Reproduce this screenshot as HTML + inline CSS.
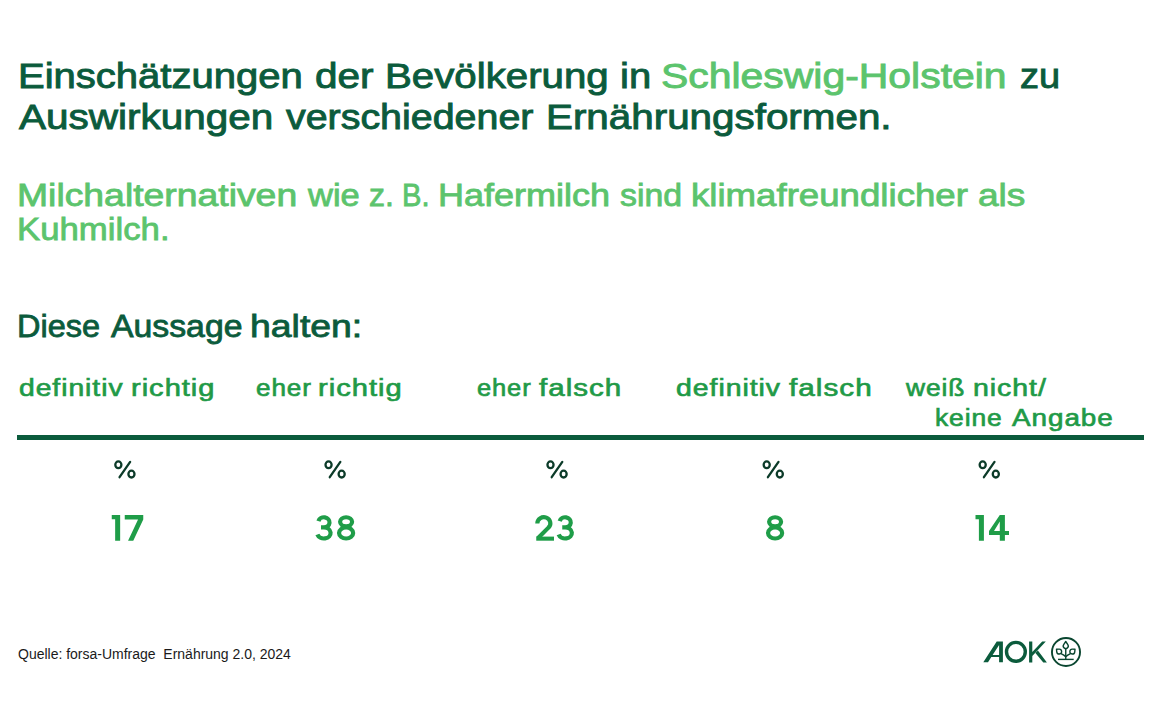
<!DOCTYPE html>
<html lang="de">
<head>
<meta charset="utf-8">
<style>
html,body{margin:0;padding:0;background:#fff;}
body{width:1153px;height:720px;position:relative;overflow:hidden;font-family:"Liberation Sans",sans-serif;}
.t{position:absolute;white-space:nowrap;line-height:1.117;transform-origin:0 0;}
.dk{color:#0b5b3c;}
.lg{color:#5cc46d;}
.md{color:#1f9a47;}
.title{font-size:34.9px;font-weight:normal;-webkit-text-stroke:0.9px currentColor;}
.sub{font-size:30.6px;font-weight:normal;-webkit-text-stroke:0.8px currentColor;}
.hd{font-size:23.5px;font-weight:normal;-webkit-text-stroke:0.65px currentColor;letter-spacing:0.8px;}
.rule{position:absolute;left:17px;top:435px;width:1127px;height:5px;background:#0b5b3c;}
.foot{font-size:14px;color:#1a1a1a;}
</style>
</head>
<body>
<div class="t title dk" id="t1w0" style="left:18.01px;top:56px;transform:scaleX(1.1470);">Einschätzungen</div>
<div class="t title dk" id="t1w1" style="left:315.39px;top:56px;transform:scaleX(1.1613);">der</div>
<div class="t title dk" id="t1w2" style="left:384.91px;top:56px;transform:scaleX(1.1536);">Bevölkerung</div>
<div class="t title dk" id="t1w3" style="left:620.00px;top:56px;transform:scaleX(1.1466);">in</div>
<div class="t title lg" id="t1w4" style="left:661.38px;top:56px;transform:scaleX(1.1725);">Schleswig-Holstein</div>
<div class="t title dk" id="t1w5" style="left:1019.66px;top:56px;transform:scaleX(1.0884);">zu</div>
<div class="t title dk" id="t2w0" style="left:19.01px;top:97px;transform:scaleX(1.1598);">Auswirkungen</div>
<div class="t title dk" id="t2w1" style="left:285.91px;top:97px;transform:scaleX(1.1290);">verschiedener</div>
<div class="t title dk" id="t2w2" style="left:545.85px;top:97px;transform:scaleX(1.1570);">Ernährungsformen.</div>
<div class="t sub lg" id="s1w0" style="left:16.86px;top:178px;transform:scaleX(1.2204);">Milchalternativen</div>
<div class="t sub lg" id="s1w1" style="left:307.91px;top:178px;transform:scaleX(1.1265);">wie</div>
<div class="t sub lg" id="s1w2" style="left:368.99px;top:178px;transform:scaleX(1.0447);">z.</div>
<div class="t sub lg" id="s1w3" style="left:401.68px;top:178px;transform:scaleX(0.9507);">B.</div>
<div class="t sub lg" id="s1w4" style="left:437.54px;top:178px;transform:scaleX(1.1769);">Hafermilch</div>
<div class="t sub lg" id="s1w5" style="left:620.12px;top:178px;transform:scaleX(1.1060);">sind</div>
<div class="t sub lg" id="s1w6" style="left:691.31px;top:178px;transform:scaleX(1.1975);">klimafreundlicher</div>
<div class="t sub lg" id="s1w7" style="left:977.66px;top:178px;transform:scaleX(1.2118);">als</div>
<div class="t sub lg" id="s2" style="left:16.72px;top:212px;transform:scaleX(1.1358);">Kuhmilch.</div>
<div class="t sub dk" id="d1w0" style="left:16.95px;top:309px;transform:scaleX(1.0609);">Diese</div>
<div class="t sub dk" id="d1w1" style="left:110.52px;top:309px;transform:scaleX(1.1042);">Aussage</div>
<div class="t sub dk" id="d1w2" style="left:250.02px;top:309px;transform:scaleX(1.2217);">halten:</div>

<div class="t hd md" id="h1w0" style="left:18.50px;top:375px;transform:scaleX(1.2031);">definitiv</div>
<div class="t hd md" id="h1w1" style="left:131.48px;top:375px;transform:scaleX(1.2370);">richtig</div>
<div class="t hd md" id="h2w0" style="left:256.01px;top:375px;transform:scaleX(1.1114);">eher</div>
<div class="t hd md" id="h2w1" style="left:318.44px;top:375px;transform:scaleX(1.2389);">richtig</div>
<div class="t hd md" id="h3w0" style="left:477.48px;top:375px;transform:scaleX(1.0849);">eher</div>
<div class="t hd md" id="h3w1" style="left:539.25px;top:375px;transform:scaleX(1.2572);">falsch</div>
<div class="t hd md" id="h4w0" style="left:676.00px;top:375px;transform:scaleX(1.2085);">definitiv</div>
<div class="t hd md" id="h4w1" style="left:788.50px;top:375px;transform:scaleX(1.2641);">falsch</div>
<div class="t hd md" id="h5w0" style="left:905.97px;top:375px;transform:scaleX(1.1221);">weiß</div>
<div class="t hd md" id="h5w1" style="left:973.21px;top:375px;transform:scaleX(1.2115);">nicht/</div>
<div class="t hd md" id="h6w0" style="left:935.16px;top:404.6px;transform:scaleX(1.1254);">keine</div>
<div class="t hd md" id="h6w1" style="left:1011.70px;top:404.6px;transform:scaleX(1.1853);">Angabe</div>

<div class="rule"></div>
<svg id="nums" style="position:absolute;left:0;top:0;" width="1153" height="720" viewBox="0 0 1153 720"><g fill="#1f9d48" stroke="#1f9d48" stroke-width="0"><g transform="translate(111.75 515.1)"><path d="M0 0H8.4V25.6H3.4V4.2H0Z"/></g><g transform="translate(124.75 515.1)"><path d="M0 0H18.5V4.4L8.5 25.6H3.3L13.3 4.4H0Z"/></g><g transform="translate(315 515.1)"><path fill="none" stroke-width="4.2" d="M3.44 5.93A5.65 5.1 0 1 1 8.9 12.35M6.0 12.35H8.9A6.75 5.5 0 1 1 2.38 19.42"/></g><g transform="translate(337 515.1)"><g fill="none" stroke-width="4.2"><ellipse cx="9.1" cy="6.75" rx="6.0" ry="4.6"/><ellipse cx="9.1" cy="17.85" rx="7.05" ry="5.55"/></g></g><g transform="translate(535.25 515.1)"><path fill="none" stroke-width="4.2" stroke-linejoin="round" d="M2.10 8.50V8.20A6.5 6.1 0 1 1 13.20 12.51L2.6 23.2"/><path d="M1 21.5H18.75V25.6H1Z"/></g><g transform="translate(556.25 515.1)"><path fill="none" stroke-width="4.2" d="M3.44 5.93A5.65 5.1 0 1 1 8.9 12.35M6.0 12.35H8.9A6.75 5.5 0 1 1 2.38 19.42"/></g><g transform="translate(766 515.1)"><g fill="none" stroke-width="4.2"><ellipse cx="9.1" cy="6.75" rx="6.0" ry="4.6"/><ellipse cx="9.1" cy="17.85" rx="7.05" ry="5.55"/></g></g><g transform="translate(975.5 515.1)"><path d="M0 0H8.4V25.6H3.4V4.2H0Z"/></g><g transform="translate(989 515.1)"><path fill-rule="evenodd" d="M10.8 0H15.9V15.8H20V19.9H15.9V25.6H10.8V19.9H0V15.8ZM10.8 6.3V15.8H5Z"/></g></g><g fill="none" stroke="#0c3b29" stroke-width="2.3"><ellipse cx="118.35" cy="464.80" rx="3.05" ry="3.4"/><ellipse cx="131.45" cy="474.10" rx="3.05" ry="3.4"/><path d="M130.15 461.90L119.55 477.20" stroke-linecap="round"/><ellipse cx="328.55" cy="464.80" rx="3.05" ry="3.4"/><ellipse cx="341.65" cy="474.10" rx="3.05" ry="3.4"/><path d="M340.35 461.90L329.75 477.20" stroke-linecap="round"/><ellipse cx="550.50" cy="464.80" rx="3.05" ry="3.4"/><ellipse cx="563.60" cy="474.10" rx="3.05" ry="3.4"/><path d="M562.30 461.90L551.70 477.20" stroke-linecap="round"/><ellipse cx="766.70" cy="464.80" rx="3.05" ry="3.4"/><ellipse cx="779.80" cy="474.10" rx="3.05" ry="3.4"/><path d="M778.50 461.90L767.90 477.20" stroke-linecap="round"/><ellipse cx="982.70" cy="464.80" rx="3.05" ry="3.4"/><ellipse cx="995.80" cy="474.10" rx="3.05" ry="3.4"/><path d="M994.50 461.90L983.90 477.20" stroke-linecap="round"/></g></svg>

<div class="t foot" id="f1" style="left:17.80px;top:647px;transform:scaleX(0.9989);">Quelle: forsa-Umfrage&nbsp; Ernährung 2.0, 2024</div>

<svg style="position:absolute;left:975px;top:630px;" width="120" height="45" viewBox="975 630 120 45">
  <path fill="#0b5b3c" fill-rule="evenodd" d="M983.3 662.2 L996.7 641.6 L1002.9 641.6 L1002.9 662.2 L999.1 662.2 L999.1 657.1 L991.3 657.1 L988 662.2 Z M992.6 655.1 L999.1 655.1 L999.1 644.9 Z"/>
  <circle cx="1015.9" cy="651.8" r="9.4" fill="none" stroke="#0b5b3c" stroke-width="3.4"/>
  <path fill="#0b5b3c" d="M1029.1 641.4 H1032.3 V662.4 H1029.1 Z M1032.3 652 L1042.2 641.4 L1045.8 641.4 L1032.3 655.9 Z M1037.9 650.5 L1046.9 662.4 L1043.3 662.4 L1035.4 653.1 Z"/>
  <g fill="none" stroke="#0a4630">
    <circle cx="1066" cy="652" r="14.05" stroke-width="1.9"/>
    <g stroke-width="1.4" stroke-linejoin="round">
      <path d="M1065.75 641.50 L1067.83 644.61 A2.5 2.5 0 1 1 1063.67 644.61 Z"/>
      <path d="M1056.50 649.30 L1059.06 649.15 A2.45 2.45 0 1 1 1056.76 651.85 Z"/>
      <path d="M1075.00 649.30 L1074.74 651.85 A2.45 2.45 0 1 1 1072.44 649.15 Z"/>
      <path d="M1065.75 648.4 V659"/>
      <path d="M1061.0 653.6 Q1064.2 655.0 1065.75 656.8 Q1067.3 655.0 1070.5 653.6"/>
      <path d="M1058 659.4 H1073.7"/>
    </g>
  </g>
</svg>
</body>
</html>
